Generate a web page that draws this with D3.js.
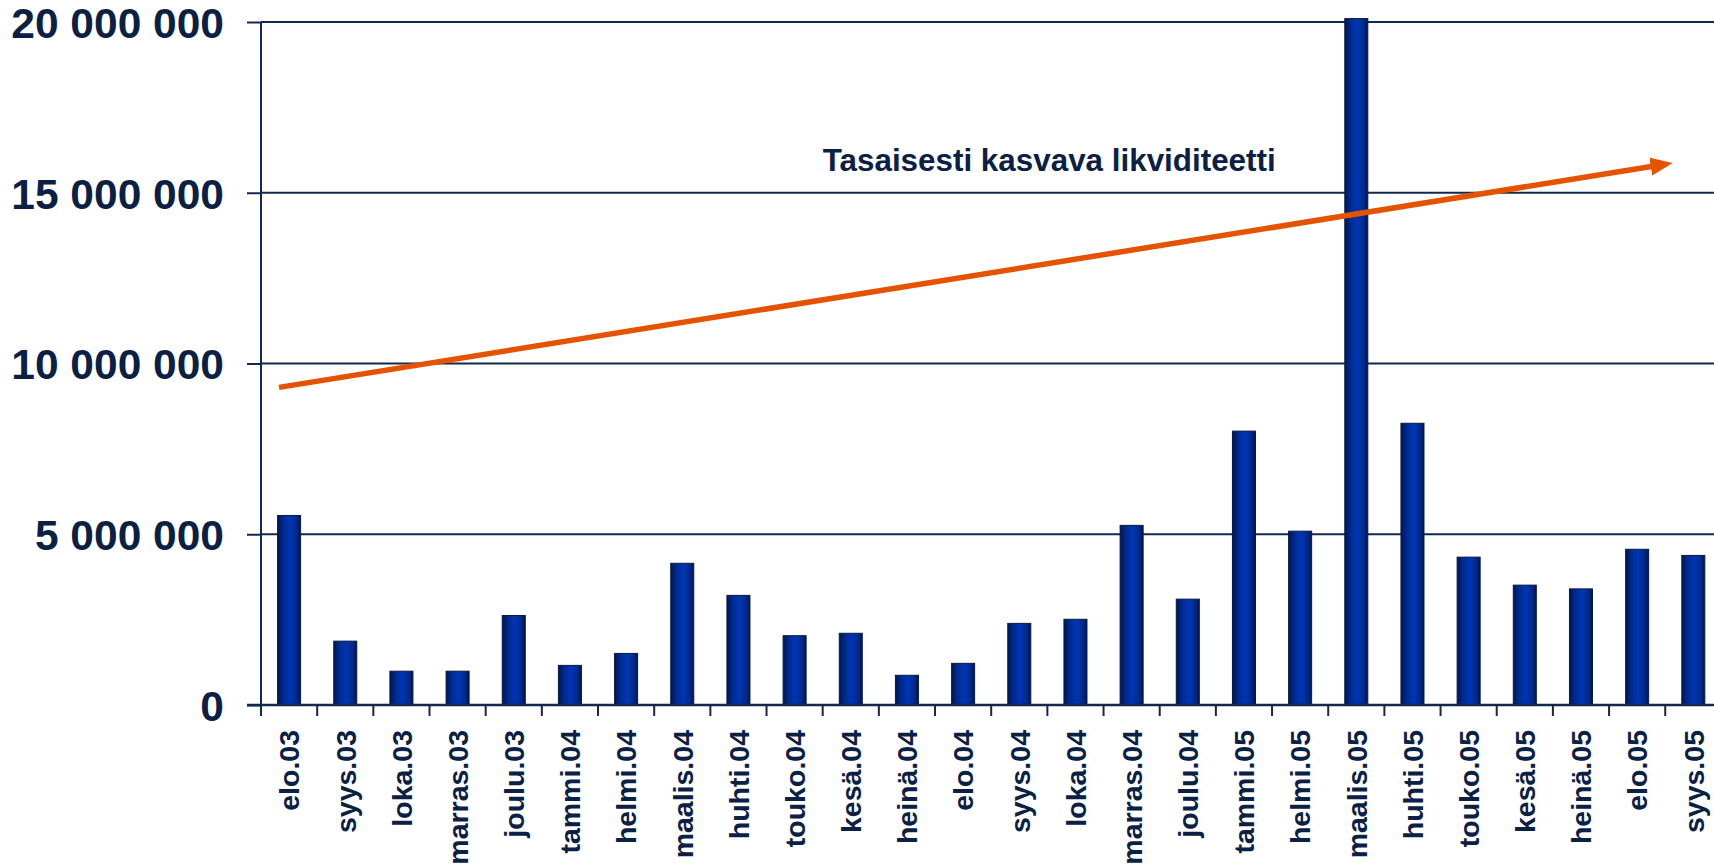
<!DOCTYPE html>
<html>
<head>
<meta charset="utf-8">
<script src="https://cdn.jsdelivr.net/npm/d3@7"></script>
<style>
  html, body { margin: 0; padding: 0; background: #fff; overflow: hidden; }
  text { font-family: "Liberation Sans", Arial, sans-serif; font-weight: bold; fill: #0b2045; }
</style>
</head>
<body>
<svg id="chart" width="1714" height="865"></svg>
<script>
// months (Finnish abbreviations)
const months = ["elo.03", "syys.03", "loka.03", "marras.03", "joulu.03", "tammi.04", "helmi.04",
  "maalis.04", "huhti.04", "touko.04", "kesä.04", "heinä.04", "elo.04", "syys.04", "loka.04",
  "marras.04", "joulu.04", "tammi.05", "helmi.05", "maalis.05", "huhti.05", "touko.05", "kesä.05",
  "heinä.05", "elo.05", "syys.05"];

const values = [5550000, 1870000, 990000, 990000, 2620000, 1160000, 1510000,
  4150000, 3210000, 2030000, 2100000, 870000, 1220000, 2390000, 2510000,
  5260000, 3100000, 8020000, 5090000, 20100000, 8250000, 4330000, 3510000,
  3400000, 4560000, 4380000];

const yTicks = [0, 5000000, 10000000, 15000000, 20000000];

// trend arrow, in (month index, value)
const trendStart = [0.32, 9300000];
const trendEnd = [25.13, 15870000];
const trendLabel = "Tasaisesti kasvava likviditeetti";

const svg = d3.select("#chart");
const margin = { left: 261, right: 1721.4, top: 22, bottom: 705 };

const x = d3.scaleBand().domain(months).range([margin.left, margin.right]).padding(0);
const step = x.step();
const xi = d3.scaleLinear().domain([0, months.length]).range([margin.left, margin.right]);
const y = d3.scaleLinear().domain([0, 20000000]).range([margin.bottom, margin.top]);

const fmt = d3.formatLocale({ decimal: ",", thousands: " ", grouping: [3], currency: ["", ""] }).format(",d");

const defs = svg.append("defs");
const grad = defs.append("linearGradient").attr("id", "barGrad")
  .attr("x1", "0%").attr("x2", "100%").attr("y1", "0%").attr("y2", "0%");
grad.append("stop").attr("offset", "0%").attr("stop-color", "#001650");
grad.append("stop").attr("offset", "25%").attr("stop-color", "#002a92");
grad.append("stop").attr("offset", "55%").attr("stop-color", "#0036b4");
grad.append("stop").attr("offset", "85%").attr("stop-color", "#002784");
grad.append("stop").attr("offset", "100%").attr("stop-color", "#001445");

defs.append("marker").attr("id", "head")
  .attr("markerUnits", "userSpaceOnUse")
  .attr("markerWidth", 24).attr("markerHeight", 20)
  .attr("refX", 2).attr("refY", 9)
  .attr("orient", "auto")
  .append("path").attr("d", "M0,0 L22,9 L0,18 Z").attr("fill", "#e65300");

// gridlines
svg.append("g")
  .selectAll("line")
  .data(yTicks.slice(1))
  .join("line")
  .attr("x1", margin.left).attr("x2", 1714)
  .attr("y1", d => y(d)).attr("y2", d => y(d))
  .attr("stroke", "#13294b").attr("stroke-width", 2);

// y axis
const yAxis = svg.append("g")
  .attr("transform", `translate(${margin.left},0)`)
  .call(d3.axisLeft(y).tickValues(yTicks).tickSize(14).tickPadding(23).tickFormat(fmt));
yAxis.select(".domain").attr("stroke", "#13294b").attr("stroke-width", 2)
  .attr("d", `M0,${margin.top}V${margin.bottom}`);
yAxis.selectAll(".tick line").attr("stroke", "#13294b").attr("stroke-width", 2);
yAxis.selectAll(".tick text")
  .attr("font-size", 42.5).attr("font-family", null).attr("fill", "#0b2045")
  .attr("dy", "0.36em");

// bars
svg.append("g")
  .selectAll("rect")
  .data(months)
  .join("rect")
  .attr("x", (d) => x(d) + step * 0.295)
  .attr("width", step * 0.41)
  .attr("y", (d, i) => y(values[i]))
  .attr("height", (d, i) => y(0) - y(values[i]))
  .attr("fill", "url(#barGrad)")
  .attr("stroke", "#0a1a40").attr("stroke-width", 1);

// x axis line + ticks at band boundaries
const xg = svg.append("g");
xg.append("line")
  .attr("x1", margin.left - 14).attr("x2", 1714)
  .attr("y1", margin.bottom).attr("y2", margin.bottom)
  .attr("stroke", "#13294b").attr("stroke-width", 2.5);
xg.selectAll("line.tk")
  .data(d3.range(months.length + 1))
  .join("line").attr("class", "tk")
  .attr("x1", d => xi(d)).attr("x2", d => xi(d))
  .attr("y1", margin.bottom).attr("y2", margin.bottom + 11)
  .attr("stroke", "#13294b").attr("stroke-width", 2);
xg.selectAll("text")
  .data(months)
  .join("text")
  .attr("transform", d => `translate(${x(d) + step / 2},${margin.bottom + 25}) rotate(-90)`)
  .attr("text-anchor", "end")
  .attr("dy", "0.36em")
  .attr("font-size", 28.5)
  .text(d => d);

// trend arrow
const p0 = [xi(trendStart[0]), y(trendStart[1])];
const p1 = [xi(trendEnd[0]), y(trendEnd[1])];
const ang = Math.atan2(p1[1] - p0[1], p1[0] - p0[0]);
const headLen = 20;
svg.append("line")
  .attr("x1", p0[0]).attr("y1", p0[1])
  .attr("x2", p1[0] - headLen * Math.cos(ang)).attr("y2", p1[1] - headLen * Math.sin(ang))
  .attr("stroke", "#e65300").attr("stroke-width", 5.5)
  .attr("marker-end", "url(#head)");

svg.append("text")
  .attr("x", x("kesä.04"))
  .attr("y", y(15650000))
  .attr("font-size", 32)
  .attr("textLength", 453)
  .attr("lengthAdjust", "spacingAndGlyphs")
  .text(trendLabel);
</script>
</body>
</html>
